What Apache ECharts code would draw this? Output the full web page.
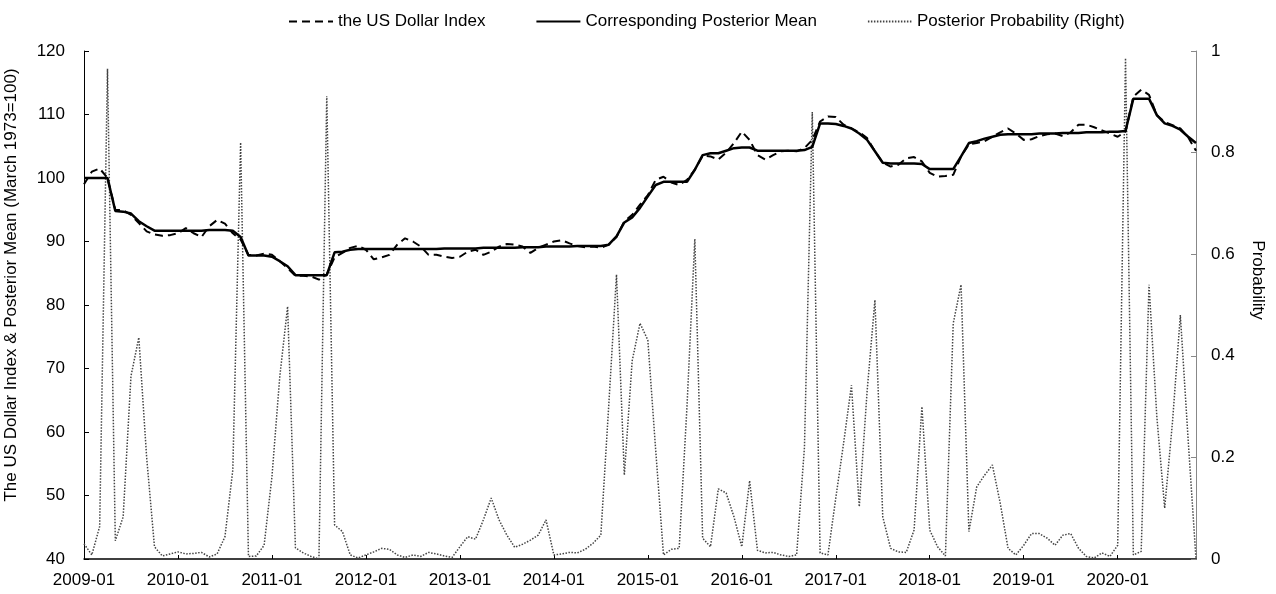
<!DOCTYPE html>
<html>
<head>
<meta charset="utf-8">
<script src="https://cdn.jsdelivr.net/npm/echarts@6/dist/echarts.min.js"></script>
<style>
  html, body { margin: 0; padding: 0; background: #fff; }
  #chart { width: 1276px; height: 594px; }
</style>
</head>
<body>
<div id="chart"></div>
<script type="text/javascript">
// months 2009-01 .. 2020-11
var months = [];
for (var y = 2009; y <= 2020; y++) {
    for (var m = 1; m <= 12; m++) {
        if (y === 2020 && m > 11) break;
        months.push(y + '-' + (m < 10 ? '0' + m : m));
    }
}

// the US Dollar Index (dashed)
var usdIndex = [
    99.0, 101.0, 101.5, 100.0, 95.0, 94.9, 94.2, 92.9, 91.6, 91.1, 90.9, 91.0,
    91.3, 92.1, 91.3, 90.7, 92.4, 93.4, 92.8, 91.3, 90.3, 87.9, 87.8, 88.1,
    87.9, 86.9, 85.8, 84.6, 84.6, 84.5, 84.0, 84.8, 87.5, 88.2, 89.0, 89.3,
    88.7, 87.2, 87.5, 87.9, 89.5, 90.5, 90.0, 89.2, 87.9, 87.9, 87.6, 87.4,
    87.6, 88.4, 88.7, 87.9, 88.4, 89.2, 89.6, 89.5, 89.2, 88.2, 89.0, 89.5,
    90.0, 90.2, 89.7, 89.3, 89.1, 89.2, 89.0, 89.5, 90.7, 93.2, 94.2, 95.8,
    97.3, 99.7, 100.2, 99.3, 98.9, 99.7, 101.3, 103.5, 103.4, 102.9, 104.0, 105.5,
    107.3, 106.0, 103.6, 102.9, 103.6, 104.2, 104.3, 104.2, 104.7, 106.0, 108.9, 109.7,
    109.6, 108.4, 107.8, 107.2, 106.3, 104.2, 102.4, 101.8, 102.1, 103.1, 103.3, 102.6,
    100.8, 100.2, 100.3, 100.5, 103.4, 105.3, 105.5, 105.8, 106.5, 107.2, 107.8, 107.0,
    106.0, 106.1, 106.6, 106.9, 107.0, 106.6, 107.2, 108.4, 108.4, 108.0, 107.5, 107.0,
    106.5, 107.3, 112.8, 113.9, 113.1, 109.9, 108.8, 108.3, 107.8, 106.4, 104.3
];

// Corresponding Posterior Mean (solid)
var postMean = [
    100.0, 100.0, 100.0, 100.0, 94.8, 94.7, 94.4, 93.2, 92.4, 91.7, 91.7, 91.7,
    91.7, 91.7, 91.7, 91.7, 91.8, 91.8, 91.8, 91.7, 90.7, 87.8, 87.8, 87.8,
    87.6, 86.9, 86.1, 84.7, 84.7, 84.7, 84.7, 84.7, 88.3, 88.4, 88.7, 88.8,
    88.8, 88.8, 88.8, 88.8, 88.8, 88.8, 88.8, 88.8, 88.8, 88.8, 88.9, 88.9,
    88.9, 88.9, 88.9, 89.0, 89.0, 89.0, 89.0, 89.0, 89.1, 89.1, 89.1, 89.2,
    89.2, 89.2, 89.2, 89.3, 89.3, 89.3, 89.3, 89.5, 90.8, 93.0, 93.8, 95.3,
    97.1, 98.9, 99.4, 99.4, 99.4, 99.4, 101.3, 103.6, 103.9, 103.9, 104.3, 104.7,
    104.8, 104.8, 104.3, 104.3, 104.3, 104.3, 104.3, 104.3, 104.4, 104.9, 108.6, 108.6,
    108.5, 108.2, 107.8, 107.0, 106.0, 104.2, 102.4, 102.3, 102.3, 102.3, 102.3, 102.2,
    101.4, 101.4, 101.4, 101.4, 103.4, 105.5, 105.8, 106.2, 106.5, 106.8, 106.9, 106.9,
    106.9, 106.9, 107.0, 107.0, 107.0, 107.1, 107.1, 107.1, 107.2, 107.2, 107.2, 107.3,
    107.3, 107.4, 112.5, 112.5, 112.5, 109.9, 108.6, 108.2, 107.6, 106.5, 105.5
];

// Posterior Probability (dotted, right axis)
var postProb = [
    0.030, 0.008, 0.064, 0.965, 0.036, 0.083, 0.360, 0.436, 0.200, 0.024, 0.006, 0.010,
    0.014, 0.010, 0.011, 0.013, 0.004, 0.010, 0.044, 0.175, 0.820, 0.005, 0.006, 0.027,
    0.162, 0.359, 0.497, 0.022, 0.012, 0.005, 0.000, 0.911, 0.067, 0.054, 0.008, 0.002,
    0.008, 0.014, 0.021, 0.019, 0.008, 0.003, 0.008, 0.005, 0.013, 0.010, 0.006, 0.003,
    0.024, 0.044, 0.039, 0.077, 0.120, 0.077, 0.047, 0.023, 0.029, 0.037, 0.047, 0.077,
    0.008, 0.010, 0.013, 0.012, 0.019, 0.031, 0.047, 0.300, 0.560, 0.165, 0.390, 0.464,
    0.431, 0.215, 0.008, 0.019, 0.021, 0.300, 0.630, 0.041, 0.024, 0.138, 0.130, 0.083,
    0.024, 0.154, 0.017, 0.012, 0.013, 0.008, 0.005, 0.008, 0.220, 0.880, 0.012, 0.008,
    0.120, 0.228, 0.342, 0.103, 0.330, 0.510, 0.083, 0.021, 0.014, 0.013, 0.057, 0.300,
    0.057, 0.024, 0.006, 0.464, 0.540, 0.054, 0.142, 0.165, 0.185, 0.110, 0.021, 0.008,
    0.027, 0.050, 0.050, 0.041, 0.027, 0.047, 0.050, 0.021, 0.005, 0.002, 0.012, 0.005,
    0.027, 0.986, 0.008, 0.015, 0.540, 0.280, 0.100, 0.270, 0.480, 0.234, 0.000
];

var FONT = 'Liberation Sans, Arial, sans-serif';
var myChart = echarts.init(document.getElementById('chart'));
var option = {
    animation: false,
    backgroundColor: '#fff',
    textStyle: { fontFamily: FONT, color: '#000' },
    legend: {
        top: 8,
        left: 283,
        itemWidth: 44,
        itemHeight: 14,
        itemGap: 50,
        itemStyle: { opacity: 0 },   // 只要线, 不要圆点
        textStyle: { fontSize: 17, color: '#000', fontFamily: FONT },
        data: ['the US Dollar Index', 'Corresponding Posterior Mean', 'Posterior Probability (Right)']
    },
    grid: { left: 84, right: 80, top: 51, bottom: 35, outerBoundsMode: 'none' },
    xAxis: {
        type: 'category',
        boundaryGap: false,
        data: months,
        axisLine: { lineStyle: { color: '#000', width: 1.5 } },
        axisTick: { inside: true, length: 4, interval: 11, lineStyle: { color: '#000' } },
        axisLabel: { interval: 11, margin: 13, fontSize: 17, color: '#000', fontFamily: FONT },
        splitLine: { show: false }
    },
    yAxis: [
        {
            type: 'value',
            min: 40, max: 120, interval: 10,
            name: 'The US Dollar Index & Posterior Mean (March 1973=100)',
            nameLocation: 'middle',
            nameGap: 64,
            nameTextStyle: { fontSize: 17, color: '#000', fontFamily: FONT, padding: [0, 0, 0, 40] },
            axisLine: { show: true, lineStyle: { color: '#000', width: 1 } },
            axisTick: { show: true, inside: true, length: 5, lineStyle: { color: '#000' } },
            axisLabel: { margin: 19, fontSize: 17, color: '#000', fontFamily: FONT },
            splitLine: { show: false }
        },
        {
            type: 'value',
            min: 0, max: 1, interval: 0.2,
            name: 'Probability',
            nameLocation: 'middle',
            nameGap: 53,
            nameRotate: -90,
            nameTextStyle: { fontSize: 17, color: '#000', fontFamily: FONT, padding: [0, 50, 0, 0] },
            axisLine: { show: true, lineStyle: { color: '#888', width: 1 } },
            axisTick: { show: true, inside: true, length: 5, lineStyle: { color: '#888' } },
            axisLabel: { margin: 15, fontSize: 17, color: '#000', fontFamily: FONT },
            splitLine: { show: false }
        }
    ],
    series: [
        {
            name: 'Posterior Probability (Right)',
            type: 'line',
            yAxisIndex: 1,
            data: postProb,
            symbol: 'none',
            z: 1,
            itemStyle: { color: '#444' },
            lineStyle: { color: '#444', width: 1.5, type: [1.5, 1.5] }
        },
        {
            name: 'the US Dollar Index',
            type: 'line',
            data: usdIndex,
            symbol: 'none',
            z: 2,
            itemStyle: { color: '#000' },
            lineStyle: { color: '#000', width: 2, type: [8, 5] }
        },
        {
            name: 'Corresponding Posterior Mean',
            type: 'line',
            data: postMean,
            symbol: 'none',
            z: 3,
            itemStyle: { color: '#000' },
            lineStyle: { color: '#000', width: 2.5 }
        }
    ]
};
myChart.setOption(option);
</script>
</body>
</html>
